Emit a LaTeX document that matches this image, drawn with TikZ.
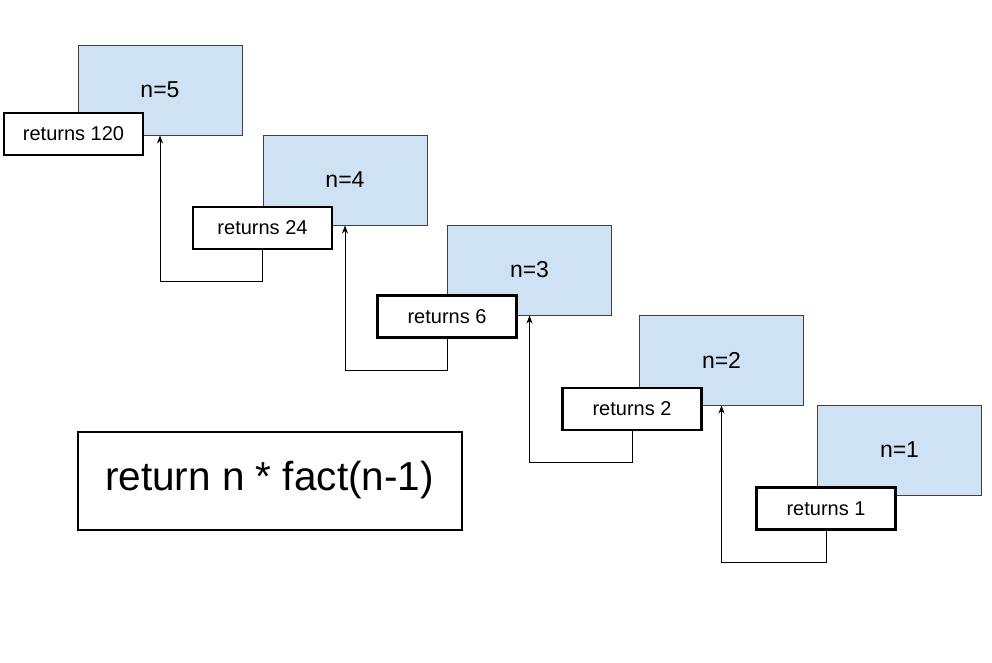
\documentclass[tikz,border=0pt]{standalone}
\usepackage{fontspec}
\setmainfont{Liberation Sans}
\usetikzlibrary{arrows.meta}
\definecolor{callblue}{HTML}{CFE2F3}
\begin{document}
\begin{tikzpicture}[x=1pt,y=-1pt,
  callbox/.style={draw=black!75, line width=1pt, fill=callblue, minimum width=164pt, minimum height=90pt, inner sep=0pt, font=\fontsize{23}{26}\selectfont},
  retbox/.style={draw=black, line width=2.2pt, fill=white, minimum width=139pt, minimum height=42pt, inner sep=0pt, font=\fontsize{20}{23}\selectfont},
  backarrow/.style={draw=black, line width=0.8pt, -{Stealth[length=8pt,width=6pt,inset=2.5pt]}}]
\useasboundingbox (0,0) rectangle (992,662);
\node[callbox] (b5) at (160,90) {n=5};
\node[callbox] (b4) at (345,180) {n=4};
\node[callbox] (b3) at (529.5,270) {n=3};
\node[callbox] (b2) at (721.5,360) {n=2};
\node[callbox] (b1) at (899.5,450) {n=1};
\node[retbox] (r5) at (73.5,134) {returns 120};
\node[retbox] (r4) at (262.5,228) {returns 24};
\node[retbox] (r3) at (447,316.5) {returns 6};
\node[retbox] (r2) at (632,409) {returns 2};
\node[retbox] (r1) at (826,508.5) {returns 1};
\draw[backarrow] (r4.south) -- ++(0,31) -| (b5.south);
\draw[backarrow] (r3.south) -- ++(0,32) -| (b4.south);
\draw[backarrow] (r2.south) -- ++(0,31) -| (b3.south);
\draw[backarrow] (r1.south) -- ++(0,32) -| (b2.south);
\node[draw=black, line width=2pt, minimum width=384pt, minimum height=98pt, inner sep=0pt, font=\fontsize{40.5}{46}\selectfont] (code) at (269.5,480.5) {return n * fact(n-1)};
\end{tikzpicture}
\end{document}
